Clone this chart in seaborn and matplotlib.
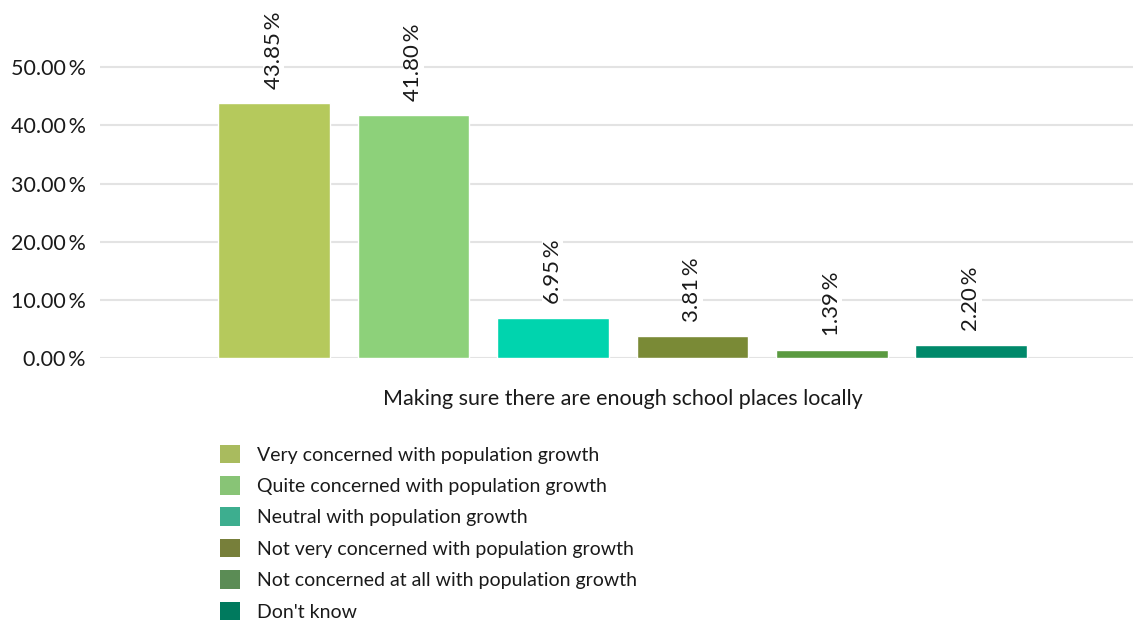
import matplotlib
matplotlib.use("Agg")
import matplotlib.pyplot as plt
from matplotlib.patches import Patch
from matplotlib.ticker import FuncFormatter
import seaborn as sns
import pandas as pd

question = "Making sure there are enough school places locally"
responses = [
    "Very concerned with population growth",
    "Quite concerned with population growth",
    "Neutral with population growth",
    "Not very concerned with population growth",
    "Not concerned at all with population growth",
    "Don't know",
]
shares = [43.85, 41.80, 6.95, 3.81, 1.39, 2.20]
bar_colors = ["#B5C95C", "#8DD17A", "#00D4AE", "#7A8A36", "#5A9A40", "#00896A"]
legend_colors = ["#A9BB5E", "#88C476", "#3DAE8F", "#777F3A", "#5B8C55", "#007A5E"]

sns.set_theme(style="white")
plt.rcParams["font.family"] = ["Lato", "DejaVu Sans"]
plt.rcParams["text.color"] = "#1a1a1a"

df = pd.DataFrame({"question": [question] * len(responses),
                   "response": responses, "share": shares})

fig = plt.figure(figsize=(11.33, 6.21), dpi=100)
ax = fig.add_axes([0.088, 0.4235, 0.912, 0.562])

sns.barplot(data=df, x="question", y="share", hue="response",
            hue_order=responses, palette=bar_colors, width=0.81, gap=0.2,
            legend=False, ax=ax, saturation=1)

ax.set_ylim(0, 60)
ax.set_xlim(-0.506, 0.494)
ax.set_yticks([0, 10, 20, 30, 40, 50])
ax.yaxis.set_major_formatter(FuncFormatter(lambda v, _: f"{v:.2f}\u2009%"))
ax.tick_params(axis="y", labelsize=15.5, length=0, pad=10, colors="#1a1a1a")
ax.tick_params(axis="x", labelsize=15.5, length=0, pad=22, colors="#1a1a1a")
ax.grid(axis="y", color="#e3e3e3", linewidth=1.5)
ax.set_axisbelow(True)
for s in ax.spines.values():
    s.set_visible(False)
ax.set_xlabel("")
ax.set_ylabel("")

for patch, v in zip(ax.patches, shares):
    x = patch.get_x() + patch.get_width() / 2
    ax.annotate(f"{v:.2f}\u2009%", (x, patch.get_height()), xytext=(0, 10),
                textcoords="offset points", rotation=90, ha="center", va="bottom",
                fontsize=16, color="#1a1a1a", annotation_clip=False,
                bbox=dict(facecolor="white", edgecolor="none", pad=0.5))

handles = [Patch(facecolor=c, edgecolor="none") for c in legend_colors]
fig.legend(handles, responses, loc="upper left", bbox_to_anchor=(0.194, 0.284),
           frameon=False, fontsize=14, handlelength=1.05, handleheight=1.1,
           handletextpad=0.85, labelspacing=0.64, borderaxespad=0, borderpad=0)

fig.savefig("out.png", dpi=100)
